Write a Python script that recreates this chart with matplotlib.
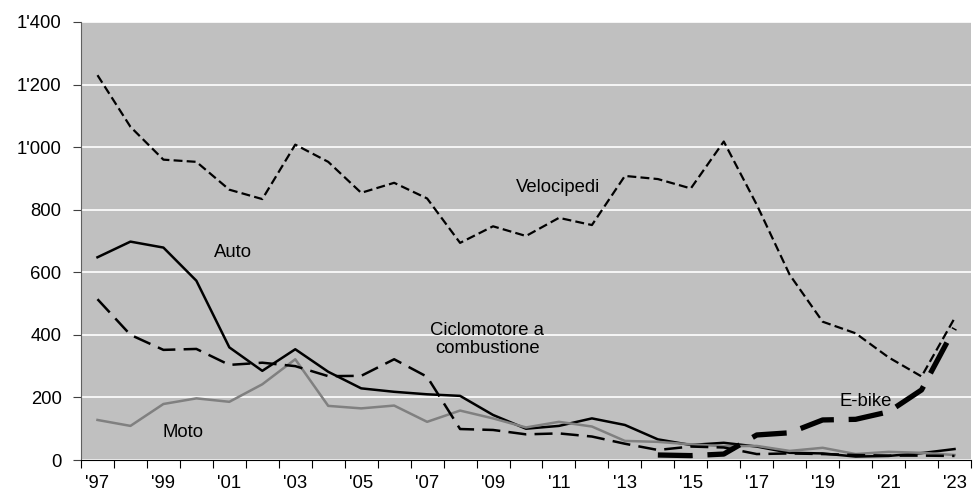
import matplotlib
matplotlib.use("Agg")
import matplotlib.pyplot as plt
from matplotlib.ticker import FuncFormatter, FixedLocator, NullFormatter

plt.rcParams['font.family'] = ['Liberation Sans', 'DejaVu Sans']

years = list(range(1997, 2024))
velocipedi = [1230, 1065, 960, 953, 864, 834, 1008, 953, 854, 886, 836, 694, 747,
              716, 774, 751, 908, 898, 868, 1018, 816, 592, 442, 405, 328, 267, 453]
auto = [648, 698, 679, 573, 360, 285, 354, 282, 229, 218, 210, 205, 144,
        100, 109, 133, 112, 66, 48, 55, 43, 23, 21, 11, 13, 22, 35]
moto = [128, 109, 179, 197, 186, 242, 322, 173, 165, 174, 122, 158, 133,
        104, 122, 107, 61, 58, 50, 44, 45, 29, 39, 19, 26, 23, 16]
ciclomotore = [514, 400, 352, 355, 304, 311, 300, 268, 269, 322, 266, 99, 96,
               82, 85, 75, 52, 32, 43, 40, 19, 21, 19, 16, 14, 14, 13]
ebike_years = list(range(2014, 2024))
ebike = [16, 14, 19, 80, 87, 128, 130, 154, 224, 421]

xlabels = ["'%02d" % (y % 100) for y in years]

FS = 13.3

fig = plt.figure(figsize=(9.73, 4.94), dpi=100)
ax = fig.add_axes([81/973, 34/494, 890/973, 438/494])
ax.set_facecolor('#c0c0c0')

xi = list(range(len(years)))
ex = [years.index(y) for y in ebike_years]

ax.plot(xi, velocipedi, color='black', lw=1.6, dashes=(4, 1.9))
ax.plot(xi, auto, color='black', lw=1.8)
ax.plot(xi, moto, color='#808080', lw=1.8)
ax.plot(xi, ciclomotore, color='black', lw=1.8, dashes=(7.2, 3.3))
ax.plot(ex, ebike, color='black', lw=3.8, dashes=(6.6, 2.8))

ax.set_xlim(-0.5, len(years) - 0.5)
ax.set_ylim(0, 1400)
ax.set_yticks(range(0, 1401, 200))
ax.yaxis.set_major_formatter(FuncFormatter(lambda v, p: format(int(v), ',').replace(',', "'")))
ax.grid(axis='y', color='white', lw=1.2)
ax.set_axisbelow(True)

ax.xaxis.set_major_locator(FixedLocator([i - 0.5 for i in range(len(years) + 1)]))
ax.xaxis.set_major_formatter(NullFormatter())
ax.xaxis.set_minor_locator(FixedLocator(xi[::2]))
ax.set_xticklabels([xlabels[i] for i in xi[::2]], minor=True)
ax.tick_params(axis='x', which='minor', length=0, pad=11, labelsize=FS)
ax.tick_params(axis='x', which='major', length=6, color='black', direction='out')
ax.tick_params(axis='y', length=6, color='#404040', labelsize=FS, pad=8)

for s in ['top', 'right']:
    ax.spines[s].set_visible(False)
ax.spines['left'].set_color('#606060')
ax.spines['bottom'].set_color('black')

ax.text(13.97, 870, 'Velocipedi', fontsize=FS, ha='center', va='center')
ax.text(4.12, 662, 'Auto', fontsize=FS, ha='center', va='center')
ax.text(11.82, 385, 'Ciclomotore a\ncombustione', fontsize=FS,
        ha='center', va='center', multialignment='center', linespacing=1.1)
ax.text(23.3, 186, 'E-bike', fontsize=FS, ha='center', va='center')
ax.text(2.59, 87, 'Moto', fontsize=FS, ha='center', va='center')

fig.savefig('out.png', dpi=100)
